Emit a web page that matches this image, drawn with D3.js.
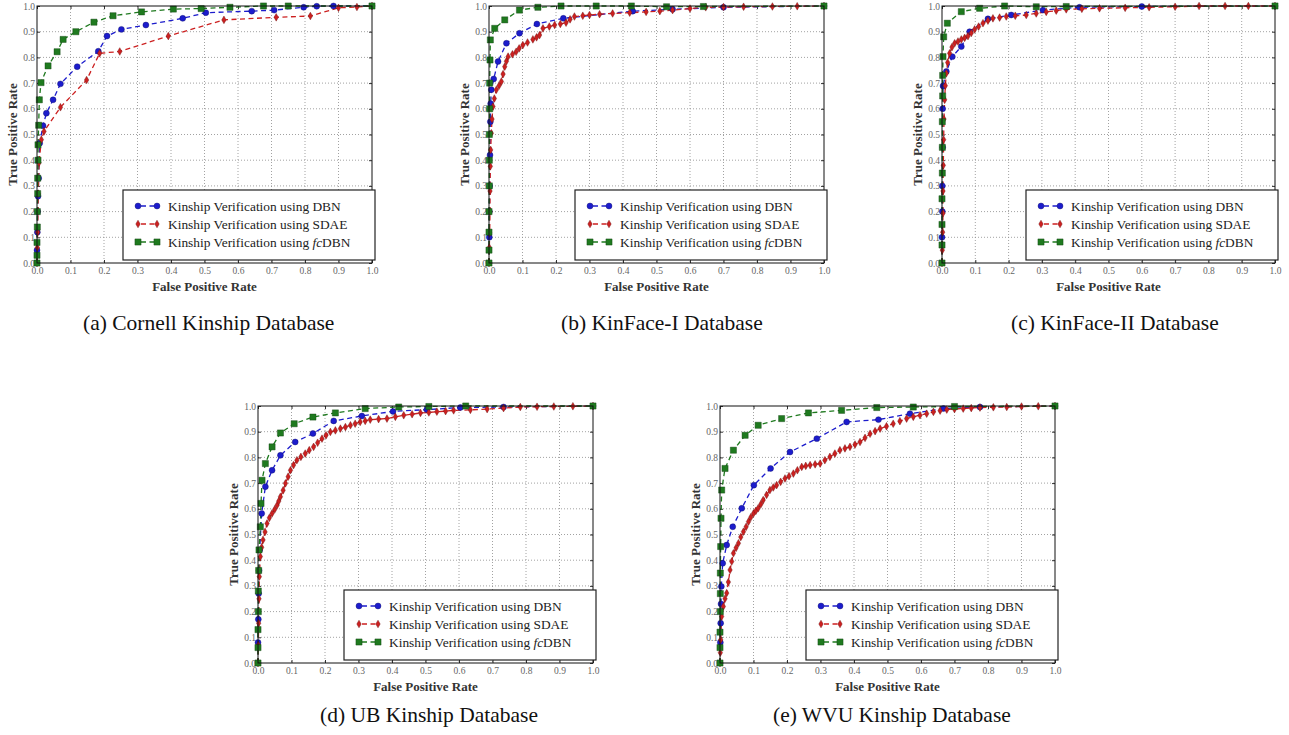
<!DOCTYPE html>
<html lang="en">
<head>
  <meta charset="UTF-8">
  <title>ROC curves</title>
  <script src="https://cdn.jsdelivr.net/npm/d3@7/dist/d3.min.js"></script>
  <style>
    body { margin: 0; background: #fff; }
    svg { display: block; }
  </style>
</head>
<body>
  <svg id="chart"></svg>
  <script>
    // tick values shared by both axes
    const ticks = [0, 0.1, 0.2, 0.3, 0.4, 0.5, 0.6, 0.7, 0.8, 0.9, 1.0];
    const seriesNames = ["DBN", "SDAE", "fcDBN"];
    const captions = ["(a) Cornell Kinship Database", "(b) KinFace-I Database", "(c) KinFace-II Database",
                      "(d) UB Kinship Database", "(e) WVU Kinship Database"];

    // (a) Cornell
    const aDBN = [[0,0],[0,0.05],[0.001,0.12],[0.002,0.2],[0.003,0.26],[0.005,0.33],[0.008,0.466],[0.018,0.534],[0.028,0.583],[0.048,0.635],[0.07,0.697],[0.12,0.764],[0.183,0.824],[0.209,0.883],[0.252,0.909],[0.325,0.926],[0.435,0.952],[0.504,0.974],[0.641,0.98],[0.708,0.984],[0.796,0.995],[0.835,0.999],[0.885,1],[1,1]];
    const aSDAE = [[0,0],[0.001,0.06],[0.002,0.12],[0.003,0.2],[0.004,0.27],[0.006,0.39],[0.013,0.48],[0.021,0.512],[0.07,0.606],[0.148,0.712],[0.187,0.816],[0.247,0.823],[0.392,0.883],[0.558,0.946],[0.714,0.956],[0.816,0.961],[0.9,0.993],[0.955,0.996],[1,1]];
    const aFC = [[0,0],[0,0.03],[0,0.08],[0.001,0.14],[0.001,0.2],[0.002,0.27],[0.002,0.33],[0.003,0.4],[0.003,0.46],[0.005,0.536],[0.007,0.635],[0.012,0.702],[0.033,0.767],[0.06,0.822],[0.078,0.87],[0.116,0.9],[0.17,0.937],[0.227,0.962],[0.312,0.977],[0.407,0.988],[0.49,0.99],[0.576,0.995],[0.676,1],[0.75,1],[1,1]];

    // (b) KinFace-I
    const bDBN = [[0,0],[0.001,0.1],[0.001,0.2],[0.002,0.3],[0.003,0.42],[0.004,0.55],[0.005,0.62],[0.007,0.674],[0.014,0.716],[0.027,0.784],[0.052,0.855],[0.091,0.894],[0.143,0.93],[0.222,0.952],[0.429,0.98],[0.548,0.987],[0.7,0.995],[1,1]];
    const bSDAE = [[0,0],[0.001,0.06],[0.002,0.117],[0.003,0.2],[0.003,0.28],[0.004,0.376],[0.005,0.44],[0.007,0.505],[0.009,0.56],[0.012,0.609],[0.016,0.64],[0.022,0.674],[0.03,0.69],[0.037,0.706],[0.042,0.735],[0.047,0.764],[0.052,0.785],[0.057,0.803],[0.07,0.812],[0.081,0.822],[0.09,0.835],[0.101,0.848],[0.115,0.858],[0.131,0.87],[0.142,0.878],[0.151,0.887],[0.161,0.913],[0.18,0.92],[0.196,0.926],[0.213,0.93],[0.23,0.935],[0.242,0.948],[0.255,0.959],[0.28,0.962],[0.3,0.965],[0.33,0.968],[0.369,0.971],[0.42,0.974],[0.469,0.977],[0.51,0.98],[0.548,0.984],[0.6,0.99],[0.647,0.995],[0.7,0.996],[0.76,0.997],[0.846,0.998],[0.92,0.999],[1,1]];
    const bFC = [[0,0],[0,0.05],[0,0.12],[0,0.2],[0.001,0.3],[0.001,0.4],[0.001,0.5],[0.002,0.6],[0.002,0.7],[0.003,0.79],[0.004,0.868],[0.017,0.913],[0.047,0.946],[0.091,0.984],[0.146,0.995],[0.215,1],[0.32,1],[0.425,1],[0.53,0.997],[0.64,0.998],[1,1]];

    // (c) KinFace-II
    const cDBN = [[0,0],[0,0.1],[0.001,0.2],[0.001,0.3],[0.002,0.45],[0.002,0.6],[0.003,0.689],[0.013,0.745],[0.031,0.803],[0.058,0.842],[0.083,0.9],[0.138,0.95],[0.208,0.965],[0.303,0.984],[0.413,0.995],[0.6,0.998],[1,1]];
    const cSDAE = [[0,0],[0.001,0.05],[0.002,0.12],[0.003,0.194],[0.003,0.28],[0.004,0.38],[0.005,0.48],[0.006,0.56],[0.008,0.635],[0.01,0.69],[0.013,0.738],[0.017,0.78],[0.023,0.816],[0.03,0.84],[0.038,0.855],[0.048,0.862],[0.058,0.87],[0.068,0.876],[0.078,0.883],[0.088,0.895],[0.098,0.909],[0.11,0.92],[0.123,0.933],[0.138,0.943],[0.153,0.952],[0.173,0.955],[0.193,0.959],[0.22,0.962],[0.253,0.965],[0.283,0.971],[0.313,0.977],[0.343,0.982],[0.373,0.987],[0.42,0.989],[0.473,0.991],[0.55,0.993],[0.622,0.995],[0.7,0.997],[0.772,1],[0.85,1],[0.92,1],[1,1]];
    const cFC = [[0,0],[0,0.07],[0,0.15],[0,0.25],[0.001,0.35],[0.001,0.45],[0.001,0.55],[0.002,0.65],[0.002,0.73],[0.003,0.803],[0.005,0.88],[0.016,0.933],[0.058,0.978],[0.113,0.991],[0.188,1],[0.283,0.997],[0.373,0.998],[1,1]];

    // (d) UB
    const dDBN = [[0,0],[0,0.08],[0.001,0.17],[0.002,0.27],[0.003,0.36],[0.005,0.44],[0.011,0.582],[0.022,0.686],[0.042,0.75],[0.067,0.808],[0.111,0.86],[0.164,0.893],[0.226,0.942],[0.31,0.961],[0.403,0.979],[0.504,0.986],[0.604,0.994],[0.733,0.996],[1,1]];
    const dSDAE = [[0,0],[0.001,0.07],[0.002,0.155],[0.003,0.25],[0.004,0.336],[0.007,0.414],[0.011,0.45],[0.015,0.479],[0.021,0.51],[0.027,0.543],[0.034,0.565],[0.042,0.582],[0.05,0.598],[0.057,0.614],[0.062,0.63],[0.067,0.647],[0.075,0.672],[0.082,0.699],[0.09,0.725],[0.097,0.75],[0.106,0.77],[0.116,0.789],[0.128,0.802],[0.141,0.815],[0.153,0.828],[0.166,0.841],[0.178,0.857],[0.191,0.873],[0.203,0.886],[0.216,0.899],[0.231,0.905],[0.246,0.912],[0.261,0.918],[0.276,0.925],[0.29,0.931],[0.305,0.938],[0.32,0.942],[0.335,0.947],[0.36,0.949],[0.385,0.951],[0.41,0.958],[0.435,0.964],[0.46,0.968],[0.485,0.973],[0.51,0.975],[0.534,0.978],[0.56,0.98],[0.584,0.983],[0.634,0.985],[0.684,0.988],[0.733,0.992],[0.783,0.996],[0.833,0.997],[0.883,0.998],[0.94,0.999],[1,1]];
    const dFC = [[0,0],[0,0.06],[0,0.13],[0.001,0.2],[0.001,0.28],[0.002,0.36],[0.003,0.44],[0.007,0.53],[0.009,0.621],[0.012,0.711],[0.022,0.776],[0.042,0.841],[0.067,0.895],[0.108,0.931],[0.164,0.957],[0.231,0.973],[0.32,0.99],[0.42,0.996],[0.51,0.998],[0.62,1],[1,1]];

    // (e) WVU
    const eDBN = [[0,0],[0.001,0.08],[0.002,0.155],[0.003,0.23],[0.004,0.298],[0.008,0.388],[0.02,0.459],[0.038,0.53],[0.065,0.602],[0.101,0.692],[0.151,0.757],[0.209,0.821],[0.289,0.873],[0.378,0.938],[0.473,0.947],[0.567,0.97],[0.667,0.99],[0.776,0.996],[1,1]];
    const eSDAE = [[0,0],[0.001,0.04],[0.002,0.09],[0.005,0.181],[0.01,0.22],[0.015,0.25],[0.02,0.272],[0.025,0.315],[0.03,0.362],[0.035,0.395],[0.04,0.427],[0.048,0.448],[0.055,0.466],[0.062,0.49],[0.07,0.511],[0.078,0.53],[0.085,0.55],[0.092,0.567],[0.1,0.582],[0.107,0.592],[0.114,0.602],[0.122,0.618],[0.129,0.634],[0.139,0.654],[0.149,0.673],[0.159,0.683],[0.169,0.692],[0.181,0.705],[0.194,0.718],[0.206,0.727],[0.219,0.737],[0.231,0.75],[0.244,0.763],[0.256,0.767],[0.269,0.77],[0.284,0.773],[0.299,0.776],[0.313,0.789],[0.328,0.802],[0.343,0.815],[0.358,0.828],[0.373,0.835],[0.388,0.841],[0.403,0.85],[0.418,0.86],[0.433,0.876],[0.448,0.892],[0.463,0.902],[0.478,0.912],[0.497,0.921],[0.517,0.931],[0.537,0.941],[0.557,0.951],[0.577,0.958],[0.597,0.964],[0.617,0.97],[0.637,0.977],[0.657,0.982],[0.677,0.986],[0.7,0.988],[0.726,0.99],[0.75,0.992],[0.776,0.994],[0.816,0.995],[0.856,0.996],[0.9,0.998],[0.95,0.999],[1,1]];
    const eFC = [[0,0],[0,0.06],[0,0.12],[0.001,0.2],[0.001,0.27],[0.001,0.35],[0.002,0.453],[0.003,0.563],[0.005,0.673],[0.015,0.757],[0.04,0.828],[0.075,0.886],[0.114,0.925],[0.184,0.951],[0.264,0.973],[0.363,0.983],[0.468,0.994],[0.577,0.996],[0.7,0.998],[1,1]];

    const panelData = [[aDBN, aSDAE, aFC], [bDBN, bSDAE, bFC], [cDBN, cSDAE, cFC], [dDBN, dSDAE, dFC], [eDBN, eSDAE, eFC]];

    // layout: plot area of each panel + where its caption starts
    const layout = [
      {x0: 37,  x1: 372,  y0: 6,   y1: 263, capX: 83,   capY: 330},
      {x0: 489, x1: 824,  y0: 6,   y1: 263, capX: 561,  capY: 330},
      {x0: 942, x1: 1275, y0: 6,   y1: 263, capX: 1011, capY: 330},
      {x0: 258, x1: 593,  y0: 406, y1: 663, capX: 320,  capY: 722},
      {x0: 720, x1: 1055, y0: 406, y1: 663, capX: 773,  capY: 722}
    ];

    const colors = ["#1c1ccc", "#cc2020", "#1f7a1f"];
    const edges = ["#0a0a66", "#661010", "#0f3d0f"];
    const symbols = [d3.symbolCircle, d3.symbolDiamond, d3.symbolSquare];
    const symSizes = [28, 17, 38];
    const serif = "'Liberation Serif', 'DejaVu Serif', serif";

    const svg = d3.select("#chart").attr("width", 1289).attr("height", 735);
    svg.append("rect").attr("width", 1289).attr("height", 735).attr("fill", "#fff");

    layout.forEach((L, i) => draw(svg.append("g"), L, panelData[i], captions[i]));

    function draw(g, L, data, caption) {
      const w = L.x1 - L.x0, h = L.y1 - L.y0;
      const x = d3.scaleLinear().domain([0, 1]).range([0, w]);
      const y = d3.scaleLinear().domain([0, 1]).range([h, 0]);

      const p = g.append("g").attr("transform", `translate(${L.x0},${L.y0})`);

      // dotted grid
      p.append("g").selectAll("line.gx").data(ticks.slice(1, -1)).join("line")
        .attr("x1", d => x(d)).attr("x2", d => x(d)).attr("y1", 0).attr("y2", h)
        .attr("stroke", "#8a8a8a").attr("stroke-width", 0.8).attr("stroke-dasharray", "1,2");
      p.append("g").selectAll("line.gy").data(ticks.slice(1, -1)).join("line")
        .attr("y1", d => y(d)).attr("y2", d => y(d)).attr("x1", 0).attr("x2", w)
        .attr("stroke", "#8a8a8a").attr("stroke-width", 0.8).attr("stroke-dasharray", "1,2");

      // axes with inward ticks
      const fmt = d3.format(".1f");
      const xa = p.append("g").attr("transform", `translate(0,${h})`)
        .call(d3.axisBottom(x).tickValues(ticks).tickFormat(fmt).tickSizeInner(-3).tickSizeOuter(0).tickPadding(4));
      const ya = p.append("g")
        .call(d3.axisLeft(y).tickValues(ticks).tickFormat(fmt).tickSizeInner(-3).tickSizeOuter(0).tickPadding(2));
      p.append("g").call(d3.axisTop(x).tickValues(ticks).tickFormat("").tickSizeInner(-3).tickSizeOuter(0));
      p.append("g").attr("transform", `translate(${w},0)`)
        .call(d3.axisRight(y).tickValues(ticks).tickFormat("").tickSizeInner(-3).tickSizeOuter(0));
      p.selectAll(".domain").remove();
      p.selectAll(".tick line").attr("stroke", "#333");
      [xa, ya].forEach(a => a.selectAll("text").attr("font-family", serif).attr("font-size", 9.5).attr("fill", "#666"));

      // curves
      const line = d3.line().x(d => x(d[0])).y(d => y(d[1]));
      data.forEach((s, k) => {
        p.append("path").attr("d", line(s)).attr("fill", "none")
          .attr("stroke", colors[k]).attr("stroke-width", 1.3).attr("stroke-dasharray", "5,3.5");
      });
      data.forEach((s, k) => {
        const sym = d3.symbol().type(symbols[k]).size(symSizes[k]);
        p.append("g").selectAll("path").data(s).join("path")
          .attr("transform", d => `translate(${x(d[0])},${y(d[1])})`)
          .attr("d", sym).attr("fill", colors[k]).attr("stroke", edges[k]).attr("stroke-width", 0.4);
      });

      // frame
      p.append("rect").attr("width", w).attr("height", h).attr("fill", "none")
        .attr("stroke", "#111").attr("stroke-width", 1);

      // axis labels
      p.append("text").attr("x", w / 2).attr("y", h + 27.5).attr("text-anchor", "middle")
        .attr("font-family", serif).attr("font-size", 13).attr("font-weight", "bold").attr("fill", "#333")
        .text("False Positive Rate");
      p.append("text").attr("transform", `translate(-20,${h / 2}) rotate(-90)`).attr("text-anchor", "middle")
        .attr("font-family", serif).attr("font-size", 13).attr("font-weight", "bold").attr("fill", "#333")
        .text("True Positive Rate");

      // legend
      const lw = 252, lh = 70;
      const lg = p.append("g").attr("transform", `translate(${w - lw + 3},${h - lh - 3})`);
      lg.append("rect").attr("width", lw).attr("height", lh).attr("fill", "#fff")
        .attr("stroke", "#222").attr("stroke-width", 1.2);
      seriesNames.forEach((name, k) => {
        const ly = 16 + k * 18;
        lg.append("line").attr("x1", 15).attr("x2", 34).attr("y1", ly).attr("y2", ly)
          .attr("stroke", colors[k]).attr("stroke-width", 1.3).attr("stroke-dasharray", "5,3.5").attr("stroke-dashoffset", -3);
        const sym = d3.symbol().type(symbols[k]).size(symSizes[k]);
        [15, 34].forEach(mx => lg.append("path").attr("transform", `translate(${mx},${ly})`)
          .attr("d", sym).attr("fill", colors[k]).attr("stroke", edges[k]).attr("stroke-width", 0.4));
        const t = lg.append("text").attr("x", 45).attr("y", ly + 4.5)
          .attr("font-family", serif).attr("font-size", 13.4).attr("fill", "#222");
        if (name === "fcDBN") {
          t.append("tspan").text("Kinship Verification using ");
          t.append("tspan").attr("font-style", "italic").text("fc");
          t.append("tspan").text("DBN");
        } else {
          t.text("Kinship Verification using " + name);
        }
      });

      // caption
      g.append("text").attr("x", L.capX).attr("y", L.capY)
        .attr("font-family", serif).attr("font-size", 21.5).attr("fill", "#111")
        .text(caption);
    }
  </script>
</body>
</html>
